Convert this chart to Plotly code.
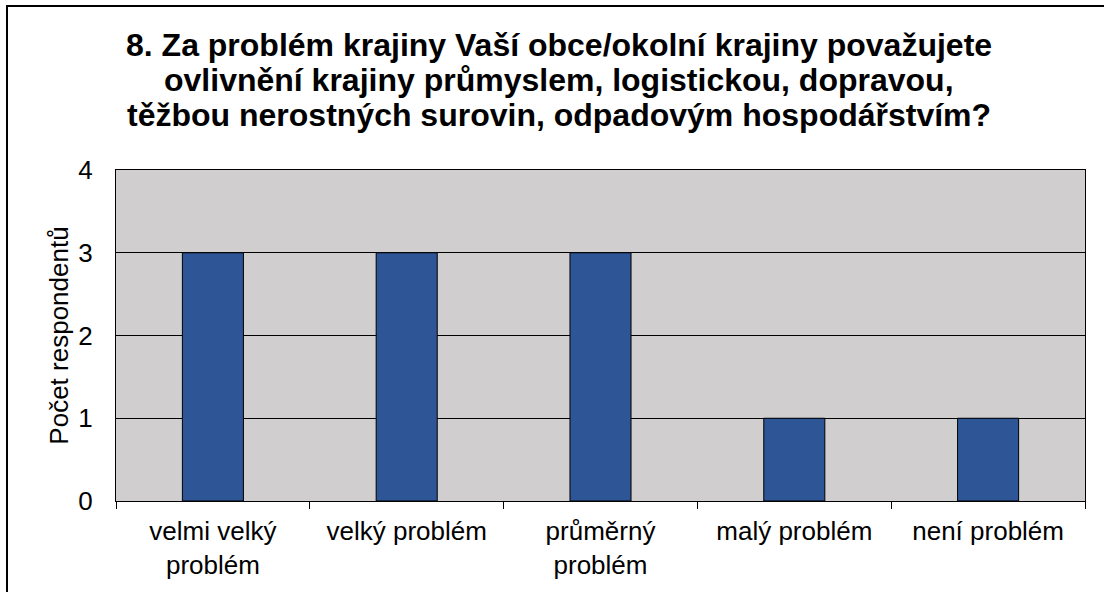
import plotly.graph_objects as go

categories = ["velmi velký<br>problém", "velký problém", "průměrný<br>problém", "malý problém", "není problém"]
values = [3, 3, 3, 1, 1]
y_ticks = [0, 1, 2, 3, 4]

title_lines = ["8. Za problém krajiny Vaší obce/okolní krajiny považujete",
               "ovlivnění krajiny průmyslem, logistickou, dopravou,",
               "těžbou nerostných surovin, odpadovým hospodářstvím?"]

W, H = 1104, 592
ML, MR, MT, MB = 116, 19, 170, 91
PW = W - ML - MR
PH = H - MT - MB

def px_x(px):
    return (px - ML) / PW

def px_y(py):
    return (H - MB - py) / PH

fig = go.Figure()
fig.add_trace(go.Bar(
    x=categories, y=values,
    marker=dict(color="#2E5596", line=dict(color="black", width=1)),
    hoverinfo="skip",
))

font = "Liberation Sans, Arial, sans-serif"
title_centers = [45, 80, 115]
annotations = [dict(text=t, xref="paper", yref="paper", x=px_x(559), y=px_y(cy),
                    xanchor="center", yanchor="middle", showarrow=False,
                    font=dict(family=font, size=32, color="black", weight="bold"))
               for t, cy in zip(title_lines, title_centers)]

fig.update_layout(
    width=W, height=H,
    margin=dict(l=ML, r=MR, t=MT, b=MB, pad=0),
    paper_bgcolor="white",
    plot_bgcolor="#D0CECF",
    bargap=0.685,
    showlegend=False,
    font=dict(family=font, size=26, color="black"),
    annotations=annotations,
    xaxis=dict(type="category", tickson="boundaries", ticks="outside", ticklen=7,
               tickcolor="black", tickwidth=1, showline=True, linecolor="black",
               linewidth=1, mirror=True, showgrid=False, automargin=False,
               tickfont=dict(size=26), ticklabelstandoff=7),
    yaxis=dict(range=[0, 4], tickvals=y_ticks, ticks="", showline=True,
               linecolor="black", linewidth=1, mirror=True, showgrid=True,
               gridcolor="black", gridwidth=1, zeroline=False, automargin=False,
               tickfont=dict(size=26), ticklabelstandoff=17,
               title=dict(text="Počet respondentů", standoff=2, font=dict(size=26))),
    shapes=[dict(type="path", xref="paper", yref="paper",
                 path=f"M {px_x(7)},{px_y(700)} L {px_x(7)},{px_y(6)} L {px_x(1200)},{px_y(6)}",
                 line=dict(color="black", width=2))],
)

fig.write_html("out.html", config={"displayModeBar": False},
               post_script="document.body.style.margin='0';")
